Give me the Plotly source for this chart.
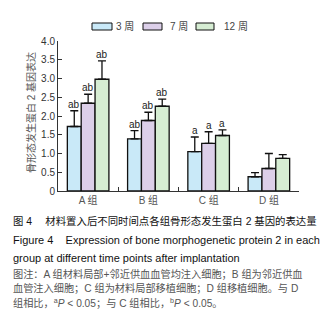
import plotly.graph_objects as go

categories = ["A 组", "B 组", "C 组", "D 组"]
series_names = ["3 周", "7 周", "12 周"]
values_3w = [1.72, 1.39, 1.05, 0.38]
values_7w = [2.34, 1.88, 1.27, 0.60]
values_12w = [2.98, 2.26, 1.48, 0.87]
err_3w = [0.42, 0.22, 0.39, 0.11]
err_7w = [0.24, 0.22, 0.31, 0.40]
err_12w = [0.49, 0.19, 0.15, 0.10]
sig_3w = ["ab", "ab", "a", ""]
sig_7w = ["ab", "ab", "a", ""]
sig_12w = ["ab", "ab", "a", ""]
y_tickvals = [0, 0.5, 1.0, 1.5, 2.0, 2.5, 3.0, 3.5, 4.0]
y_ticktext = ["0", "0.5", "1.0", "1.5", "2.0", "2.5", "3.0", "3.5", "4.0"]
colors = ["#c9e9f8", "#dccfe9", "#d6edd3"]

W, H = 330, 325
L, R, T, B = 50, 39, 33, 142
PW, PH = W - L - R, H - T - B

def px(x):
    return (x - L) / PW

def py(y):
    return (H - B - y) / PH

FONT = "Liberation Sans, Arial, Noto Sans CJK SC"
fig = go.Figure()
vals = [values_3w, values_7w, values_12w]
errs = [err_3w, err_7w, err_12w]
sigs = [sig_3w, sig_7w, sig_12w]
for name, v, e, c in zip(series_names, vals, errs, colors):
    fig.add_trace(go.Bar(
        x=categories, y=v, name=name, showlegend=False,
        marker=dict(color=c, line=dict(color="#111111", width=1.3)),
        error_y=dict(type="data", array=e, symmetric=False, arrayminus=[0] * len(e),
                     color="#111111", thickness=1.3, width=4),
    ))

bargap = 0.31
bw = (1 - bargap) / 3
annotations = []
for k in range(3):
    for i in range(len(categories)):
        if sigs[k][i]:
            annotations.append(dict(
                x=i + (k - 1) * bw, y=vals[k][i] + errs[k][i], xref="x", yref="y",
                text=sigs[k][i], showarrow=False, yanchor="bottom", yshift=-1,
                font=dict(size=10, color="#222222", family=FONT)))

# legend
legend_x = [(84, 104, 106), (135, 154, 160), (188, 206, 214)]
shapes = []
for (x0, x1, tx), c, name in zip(legend_x, colors, series_names):
    shapes.append(dict(type="rect", xref="paper", yref="paper",
                       x0=px(x0), x1=px(x1), y0=py(22), y1=py(15),
                       fillcolor=c, line=dict(color="#111111", width=1)))
    annotations.append(dict(x=px(tx), y=py(18.5), xref="paper", yref="paper",
                            text=name, showarrow=False, xanchor="left", yanchor="middle",
                            font=dict(size=10, color="#444444", family=FONT)))

annotations.append(dict(x=px(23), y=py(105), xref="paper", yref="paper",
                        text="骨形态发生蛋白 2 基因表达", textangle=-90, showarrow=False,
                        xanchor="center", yanchor="middle",
                        font=dict(size=10, color="#555555", family=FONT)))

captions = [
    (213, "图 4　 材料置入后不同时间点各组骨形态发生蛋白 2 基因的表达量", "#111111", 10.4),
    (232, "Figure 4    Expression of bone morphogenetic protein 2 in each", "#111111", 11),
    (250, "group at different time points after implantation", "#111111", 11),
    (265.5, "图注：A 组材料局部+邻近供血血管均注入细胞；B 组为邻近供血", "#555555", 10.2),
    (280, "血管注入细胞；C 组为材料局部移植细胞；D 组移植细胞。与 D", "#555555", 10.2),
    (295, "组相比，<sup>a</sup><i>P</i> &lt; 0.05；与 C 组相比，<sup>b</sup><i>P</i> &lt; 0.05。", "#555555", 10.2),
]
for y, t, c, s in captions:
    annotations.append(dict(x=px(3), y=py(y), xref="paper", yref="paper", text=t,
                            showarrow=False, xanchor="left", yanchor="middle",
                            font=dict(size=s, color=c, family=FONT)))

fig.update_layout(
    width=W, height=H, margin=dict(l=L, r=R, t=T, b=B),
    paper_bgcolor="white", plot_bgcolor="white",
    barmode="group", bargap=bargap, bargroupgap=0,
    shapes=shapes, annotations=annotations,
    font=dict(family=FONT),
)
fig.update_xaxes(type="category", tickson="boundaries", ticks="inside", ticklen=4,
                 tickcolor="#333333", showline=True, linecolor="#333333", linewidth=1,
                 range=[-0.5, 3.5], tickfont=dict(size=10, color="#555555"),
                 showgrid=False)
fig.update_yaxes(range=[0, 4], tickvals=y_tickvals, ticktext=y_ticktext,
                 ticks="inside", ticklen=4, tickcolor="#333333", showline=True,
                 linecolor="#333333", linewidth=1, showgrid=False, zeroline=False,
                 tickfont=dict(size=10, color="#333333"))

fig.write_html("out.html")
